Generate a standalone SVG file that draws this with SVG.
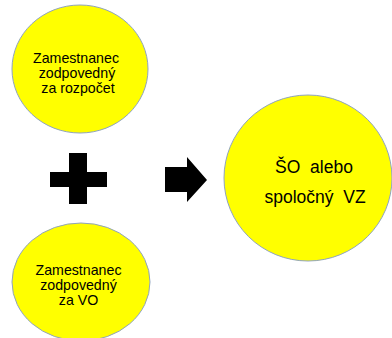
<svg xmlns="http://www.w3.org/2000/svg" width="392" height="338" viewBox="0 0 392 338">
<style>
.c{fill:#ffff00;stroke:#8fa3c0;stroke-width:1}
.s{font-family:"Liberation Sans",Arial,sans-serif;font-size:14.2px;fill:#000;text-anchor:middle}
.b{font-family:"Liberation Sans",Arial,sans-serif;font-size:17.5px;fill:#000;text-anchor:middle;white-space:pre}
.k{fill:#000}
</style>
<rect width="392" height="338" fill="#fff"/>
<g id="n1">
<ellipse class="c" cx="80" cy="69" rx="68" ry="64"/>
<text class="s" x="76" y="62.5">Zamestnanec</text>
<text class="s" x="77" y="78">zodpovedný</text>
<text class="s" x="78" y="93">za rozpočet</text>
</g>
<g id="n2">
<ellipse class="c" cx="81" cy="282" rx="69" ry="59"/>
<text class="s" x="78.5" y="274.5">Zamestnanec</text>
<text class="s" x="78.5" y="290">zodpovedný</text>
<text class="s" x="78.5" y="305">za VO</text>
</g>
<g id="n3">
<ellipse class="c" cx="308" cy="178" rx="84" ry="83"/>
<text class="b" x="314" y="173" xml:space="preserve">ŠO  alebo</text>
<text class="b" x="315" y="203" xml:space="preserve">spoločný  VZ</text>
</g>
<g id="connectors">
<path class="k" d="M69 153H87V172H107V187H87V204H69V187H50V172H69Z"/>
<path class="k" d="M165 167H187V157L207 180L187 202V192H165Z"/>
</g>
</svg>
